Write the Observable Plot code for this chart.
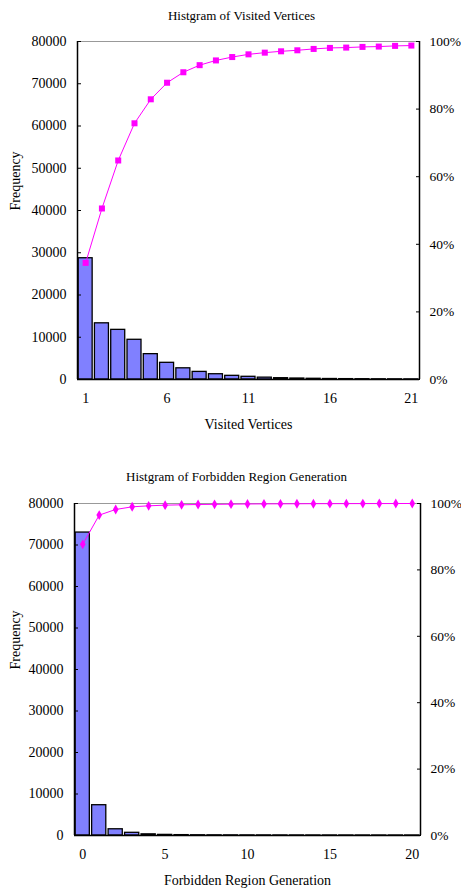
<!DOCTYPE html>
<html><head><meta charset="utf-8">
<script src="https://cdn.jsdelivr.net/npm/d3@7"></script>
<script src="https://cdn.jsdelivr.net/npm/@observablehq/plot@0.6"></script>
<style>
body{margin:0;background:#fff;}
#wrap{position:relative;width:461px;height:888px;overflow:hidden;}
.layer{position:absolute;left:0;}
</style></head><body><div id="wrap"></div>
<script>
// ---- data ----
const visitedX = [1,2,3,4,5,6,7,8,9,10,11,12,13,14,15,16,17,18,19,20,21];
const visitedCount = [28700,13300,11750,9400,6000,3950,2650,1800,1250,870,640,440,310,230,170,120,90,70,50,40,30];
const visitedCumPct = [34.5,50.6,64.8,75.8,82.9,87.8,90.9,93.0,94.4,95.4,96.2,96.7,97.1,97.4,97.8,98.1,98.2,98.4,98.5,98.7,98.8];
const forbiddenX = [0,1,2,3,4,5,6,7,8,9,10,11,12,13,14,15,16,17,18,19,20];
const forbiddenCount = [73000,7300,1500,650,280,150,90,55,40,30,25,20,15,12,10,8,6,5,4,3,2];
const forbiddenCumPct = [87.7,96.5,98.2,99.0,99.3,99.5,99.6,99.7,99.75,99.8,99.85,99.88,99.9,99.92,99.94,99.95,99.96,99.97,99.98,99.99,100];
const countTicks = [0,10000,20000,30000,40000,50000,60000,70000,80000];
const pctTicks = [0,20,40,60,80,100];
const visitedXTicks = [1,6,11,16,21];
const forbiddenXTicks = [0,5,10,15,20];

const FONT = "'Liberation Serif','Times New Roman',serif";
const wrap = document.getElementById("wrap");

function chart(cfg) {
  const {blockTop, H, mt, mb, ml, mr, xs, counts, pct, xTicks, xDomain, title, titleY, titleDx, xLabel, symbol, r} = cfg;
  const data = xs.map((x, i) => ({x, count: counts[i], pct: pct[i]}));
  const style = {fontFamily: FONT, fontSize: "14px", background: "transparent", overflow: "visible"};
  const common = {width: 461, height: H, marginTop: mt, marginBottom: mb, marginLeft: ml, marginRight: mr, style};
  const base = Plot.plot({
    ...common,
    x: {domain: xDomain},
    y: {domain: [0, 80000]},
    marks: [
      Plot.rectY(data, {x1: d => d.x - 0.43, x2: d => d.x + 0.43, y: "count", fill: "#8080ff", stroke: "#000", strokeWidth: 1.3}),
      Plot.ruleY([80000], {stroke: "#999", strokeWidth: 1}),
      Plot.ruleY([0], {stroke: "#000", strokeWidth: 1.5}),
      Plot.ruleX([xDomain[0], xDomain[1]], {stroke: "#000", strokeWidth: 1.5}),
      Plot.axisY({ticks: countTicks, tickFormat: d => String(d), tickSize: -4, tickPadding: 15, label: null}),
      Plot.axisX({ticks: xTicks, tickFormat: d => String(d), tickSize: 0, tickPadding: 14, label: null}),
      Plot.text([title], {frameAnchor: "top", lineAnchor: "middle", dy: titleY - mt, dx: titleDx, fontSize: 13}),
      Plot.text([xLabel], {frameAnchor: "bottom", lineAnchor: "middle", dy: 45, fontSize: 14}),
      Plot.text(["Frequency"], {frameAnchor: "left", lineAnchor: "middle", dx: -ml + 15, rotate: -90, fontSize: 14})
    ]
  });
  const over = Plot.plot({
    ...common,
    x: {domain: xDomain, axis: null},
    y: {domain: [0, 100]},
    marks: [
      Plot.line(data, {x: "x", y: "pct", stroke: "#ff00ff", strokeWidth: 1}),
      Plot.dot(data, {x: "x", y: "pct", symbol, r, fill: "#ff00ff", stroke: "none"}),
      Plot.axisY({anchor: "right", ticks: pctTicks, tickFormat: d => d + "%", tickSize: -4, tickPadding: 14, fontSize: 13.5, label: null})
    ]
  });
  for (const svg of [base, over]) {
    svg.classList.add("layer");
    svg.style.top = blockTop + "px";
    wrap.appendChild(svg);
  }
}

chart({blockTop: 0, H: 440, mt: 41, mb: 61, ml: 77, mr: 42,
  xs: visitedX, counts: visitedCount, pct: visitedCumPct, xTicks: visitedXTicks, xDomain: [0.5, 21.5],
  title: "Histgram of Visited Vertices", titleY: 15, titleDx: -7, xLabel: "Visited Vertices", symbol: "square", r: 3.4});
chart({blockTop: 444, H: 444, mt: 59, mb: 53, ml: 74, mr: 41,
  xs: forbiddenX, counts: forbiddenCount, pct: forbiddenCumPct, xTicks: forbiddenXTicks, xDomain: [-0.5, 20.5],
  title: "Histgram of Forbidden Region Generation", titleY: 32, titleDx: -11, xLabel: "Forbidden Region Generation", symbol: "diamond", r: 3});
</script></body></html>
